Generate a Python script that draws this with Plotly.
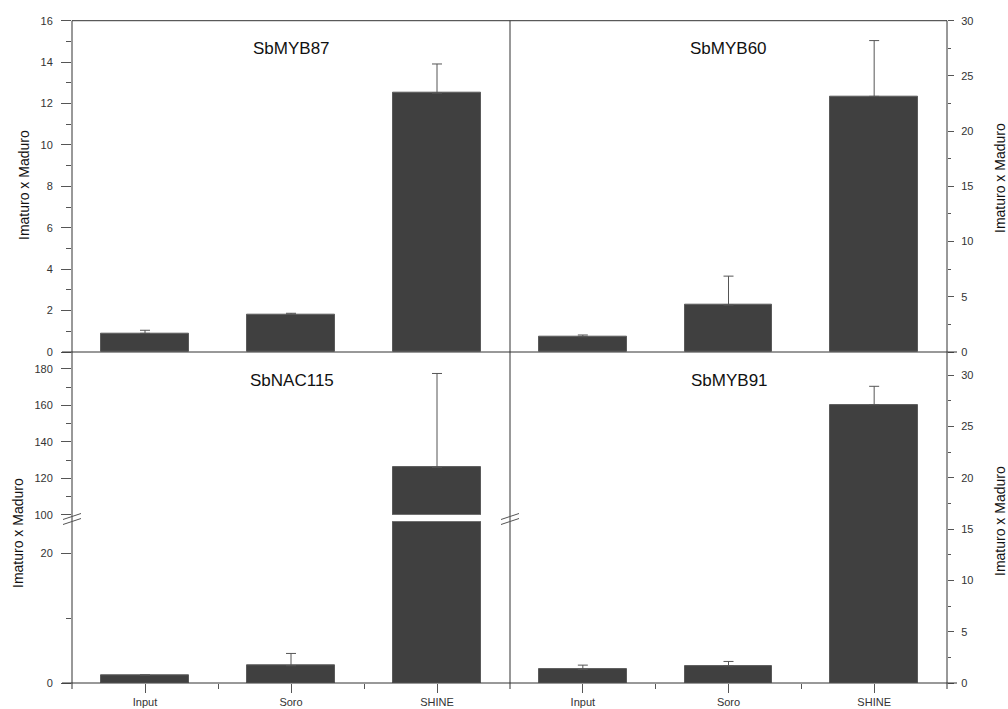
import plotly.graph_objects as go

# ---- data -------------------------------------------------------------
categories = ["Input", "Soro", "SHINE"]
cat_pos = [0.5, 1.5, 2.5]

myb87 = [0.90, 1.82, 12.5]
myb87_err = [0.15, 0.05, 1.41]

myb60 = [1.38, 4.25, 23.15]
myb60_err = [0.16, 2.62, 5.05]

nac115 = [1.23, 2.67, 126.0]
nac115_err = [0.0, 1.9, 51.5]

myb91 = [1.33, 1.67, 27.1]
myb91_err = [0.41, 0.43, 1.8]

panel_titles = ["SbMYB87", "SbMYB60", "SbNAC115", "SbMYB91"]
y_title = "Imaturo x Maduro"

# ---- layout helpers (pixel -> paper) ----------------------------------
W, H = 1008, 709


def px(x):
    return x / W


def py(y):
    return 1 - y / H


X_LEFT, X_MID, X_RIGHT = 72, 510, 947
Y_TOP, Y_MID, Y_BOT = 20.7, 352, 683
Y_UP_TOP, Y_BREAK_HI, Y_BREAK_LO = 367.1, 514.7, 521.3

FONT = "Liberation Sans, Arial, sans-serif"
BAR_COLOR = "#404040"
EDGE = "#5a5a5a"
AX = "#333333"


def bar(x, y, err, xa, ya):
    return go.Bar(
        x=x, y=y, width=0.6, xaxis=xa, yaxis=ya,
        marker=dict(color=BAR_COLOR, line=dict(color=EDGE, width=1)),
        error_y=dict(type="data", array=err, symmetric=False, arrayminus=[0] * len(err),
                     color="#555555", thickness=1, width=5),
        showlegend=False, hoverinfo="skip",
    )


fig = go.Figure()
fig.add_trace(bar(cat_pos, myb87, myb87_err, "x", "y"))
fig.add_trace(bar(cat_pos, myb60, myb60_err, "x2", "y2"))
# broken axis: lower and upper segments of the same series
fig.add_trace(bar(cat_pos, nac115, nac115_err, "x3", "y3"))
fig.add_trace(bar(cat_pos, nac115, nac115_err, "x3", "y4"))
fig.add_trace(bar(cat_pos, myb91, myb91_err, "x4", "y5"))

tickfont = dict(family=FONT, size=11, color="#333333")


def yax(domain, rng, dtick, minor_dtick, side, anchor, ticklen, minorlen, tickvals=None, minorvals=None):
    d = dict(
        domain=domain, range=rng, anchor=anchor, side=side, automargin=False,
        showgrid=False, zeroline=False, showline=False,
        ticks="outside", ticklen=ticklen, tickwidth=1, tickcolor="#555555",
        tickfont=tickfont, ticklabelstandoff=6 if side == "left" else 5,
        minor=dict(ticks="outside", ticklen=minorlen, tickwidth=1, tickcolor="#555555", showgrid=False),
        fixedrange=True,
    )
    if tickvals is not None:
        d["tickmode"] = "array"
        d["tickvals"] = tickvals
    else:
        d["dtick"] = dtick
        d["tick0"] = 0
    if minorvals is not None:
        d["minor"]["tickmode"] = "array"
        d["minor"]["tickvals"] = minorvals
    else:
        d["minor"]["dtick"] = minor_dtick
        d["minor"]["tick0"] = 0
    return d


def xax(domain, anchor, labels):
    d = dict(domain=domain, range=[0, 3], anchor=anchor, showgrid=False, zeroline=False,
             showline=False, fixedrange=True, automargin=False)
    if labels:
        d.update(tickmode="array", tickvals=cat_pos, ticktext=categories,
                 ticks="outside", ticklen=9, tickwidth=1, tickcolor="#555555",
                 tickfont=dict(family=FONT, size=11, color="#333333"), ticklabelstandoff=0,
                 minor=dict(tickmode="array", tickvals=[1, 2], ticks="outside",
                            ticklen=5, tickwidth=1, tickcolor="#555555"))
    else:
        d.update(showticklabels=False, ticks="")
    return d


left_dom = [px(X_LEFT), px(X_MID)]
right_dom = [px(X_MID), px(X_RIGHT)]
top_dom = [py(Y_MID), py(Y_TOP)]

fig.update_layout(
    width=W, height=H, autosize=False,
    margin=dict(l=0, r=0, t=0, b=0, pad=0, autoexpand=False),
    paper_bgcolor="white", plot_bgcolor="rgba(0,0,0,0)",
    bargap=0,
    xaxis=xax(left_dom, "y", False),
    xaxis2=xax(right_dom, "y2", False),
    xaxis3=xax(left_dom, "y3", True),
    xaxis4=xax(right_dom, "y5", True),
    yaxis=yax(top_dom, [0, 16], 2, 1, "left", "x", 10, 5),
    yaxis2=yax(top_dom, [0, 30], 5, 2.5, "right", "x2", 6, 3),
    yaxis3=yax([py(Y_BOT), py(Y_BREAK_LO)], [0, 25], None, None, "left", "x3", 10, 5,
               tickvals=[0, 20], minorvals=[10]),
    yaxis4=yax([py(Y_BREAK_HI), py(Y_UP_TOP)], [100, 181], None, None, "left", "x3", 10, 5,
               tickvals=[100, 120, 140, 160, 180], minorvals=[110, 130, 150, 170]),
    yaxis5=yax([py(Y_BOT), py(Y_UP_TOP)], [0, 30.77], 5, 2.5, "right", "x4", 6, 3),
)

# ---- frame lines ------------------------------------------------------
line = dict(color=AX, width=1)
shapes = [
    dict(type="line", xref="paper", yref="paper", x0=px(X_LEFT), x1=px(X_RIGHT), y0=py(Y_TOP), y1=py(Y_TOP), line=line),
    dict(type="line", xref="paper", yref="paper", x0=px(62), x1=px(957), y0=py(Y_MID), y1=py(Y_MID), line=line),
    dict(type="line", xref="paper", yref="paper", x0=px(62), x1=px(957), y0=py(Y_BOT), y1=py(Y_BOT), line=line),
    dict(type="line", xref="paper", yref="paper", x0=px(X_LEFT), x1=px(X_LEFT), y0=py(Y_TOP), y1=py(689), line=line),
    dict(type="line", xref="paper", yref="paper", x0=px(X_MID), x1=px(X_MID), y0=py(Y_TOP), y1=py(689), line=line),
    dict(type="line", xref="paper", yref="paper", x0=px(X_RIGHT), x1=px(X_RIGHT), y0=py(Y_TOP), y1=py(689), line=line),
]
# axis-break marks on the left axis and the middle divider
for xc in (X_LEFT, X_MID):
    for dy in (0, 5):
        shapes.append(dict(type="line", xref="paper", yref="paper",
                           x0=px(xc - 9), x1=px(xc + 9),
                           y0=py(519.5 + dy), y1=py(513.5 + dy),
                           line=dict(color="#555555", width=1)))
fig.update_layout(shapes=shapes)

# ---- titles -----------------------------------------------------------
annotations = []
title_pos = [(291, 48), (728, 48), (292, 380), (729, 380)]
for t, (x, y) in zip(panel_titles, title_pos):
    annotations.append(dict(text=t, x=px(x), y=py(y), xref="paper", yref="paper",
                            showarrow=False, xanchor="center", yanchor="middle",
                            font=dict(family=FONT, size=17, color="#111111")))
for (x, y) in [(24, 185), (18, 533), (1000, 178), (1000, 521)]:
    annotations.append(dict(text=y_title, x=px(x), y=py(y), xref="paper", yref="paper",
                            showarrow=False, textangle=-90, xanchor="center", yanchor="middle",
                            font=dict(family=FONT, size=14, color="#111111")))
fig.update_layout(annotations=annotations)

fig.write_html("out.html")
